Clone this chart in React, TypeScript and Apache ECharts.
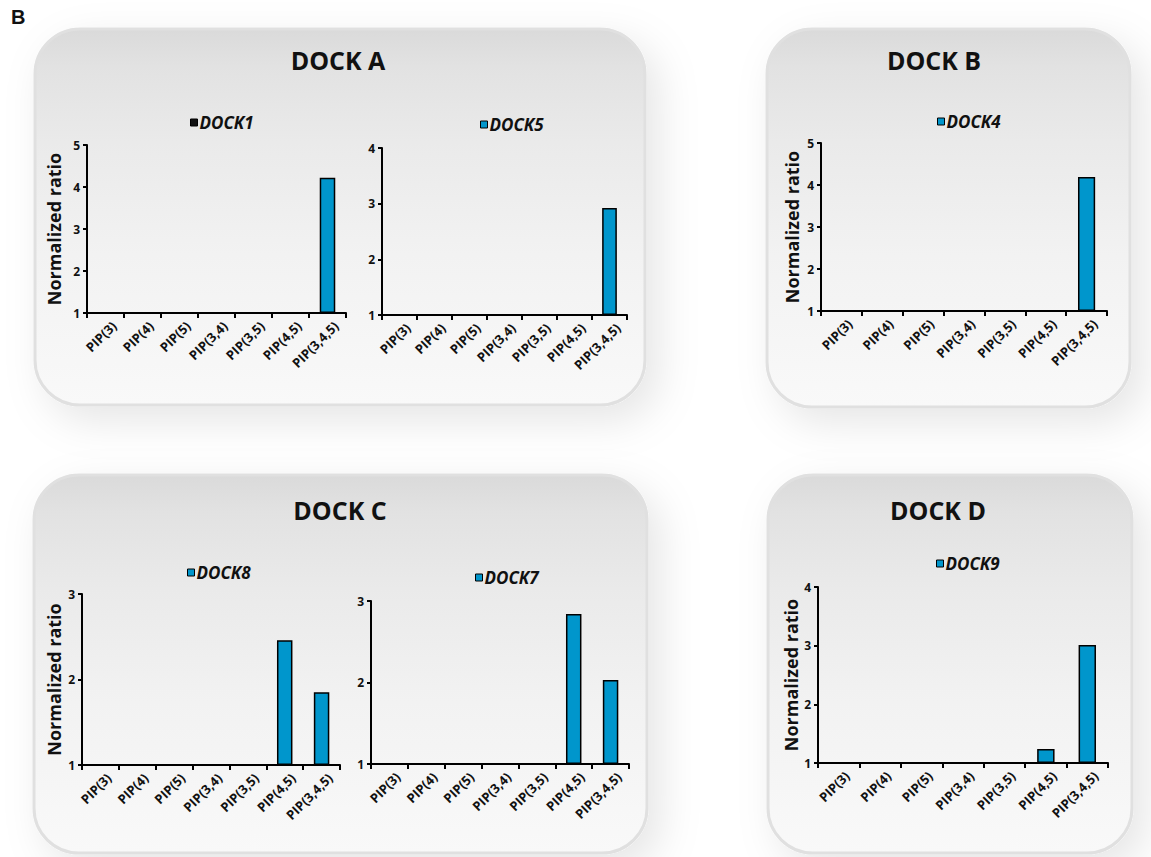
import React, { useEffect, useRef } from "react";
import * as echarts from "echarts";

const categories = ["PIP(3)", "PIP(4)", "PIP(5)", "PIP(3,4)", "PIP(3,5)", "PIP(4,5)", "PIP(3,4,5)"];
const dock1 = [1, 1, 1, 1, 1, 1, 4.22];
const dock5 = [1, 1, 1, 1, 1, 1, 2.92];
const dock4 = [1, 1, 1, 1, 1, 1, 4.19];
const dock8 = [1, 1, 1, 1, 1, 2.46, 1.85];
const dock7 = [1, 1, 1, 1, 1, 2.84, 2.03];
const dock9 = [1, 1, 1, 1, 1, 1.24, 3.01];
const seriesNames = ["DOCK1", "DOCK5", "DOCK4", "DOCK8", "DOCK7", "DOCK9"];
const seriesData = [dock1, dock5, dock4, dock8, dock7, dock9];
const yMaxes = [5, 4, 5, 3, 3, 4];
const panelTitles = ["DOCK A", "DOCK B", "DOCK C", "DOCK D"];

// layout (pixels)
const grids = [
  { left: 87, top: 145, width: 259, height: 168 },
  { left: 382, top: 148, width: 245, height: 167 },
  { left: 821, top: 143, width: 286, height: 168 },
  { left: 82, top: 594, width: 258, height: 171 },
  { left: 371, top: 601, width: 258, height: 163 },
  { left: 818, top: 587, width: 290, height: 176 },
];
const legendPos = [
  { left: 185, top: 109 },
  { left: 475, top: 111 },
  { left: 932, top: 108 },
  { left: 182, top: 559 },
  { left: 470, top: 564 },
  { left: 931, top: 550 },
];
const nameGaps = [24, null, 20, 19, null, 15];
const panels = [
  { x: 35, y: 29, w: 610, h: 376 },
  { x: 767, y: 29, w: 363, h: 378 },
  { x: 34, y: 475, w: 613, h: 378 },
  { x: 768, y: 475, w: 364, h: 378 },
];
const titlePos = [
  { x: 338, y: 60 },
  { x: 934, y: 60 },
  { x: 340, y: 510 },
  { x: 938, y: 510 },
];

const BAR = "#0096cc";
const FONT = "'Open Sans', Lato, sans-serif";

export default function App() {
  const ref = useRef<HTMLDivElement>(null);
  useEffect(() => {
    if (!ref.current) return;
    const chart = echarts.init(ref.current, undefined, { renderer: "svg" });

    const panelGraphics: any[] = panels.map((p) => ({
      type: "rect",
      z: -100,
      shape: { x: p.x, y: p.y, width: p.w, height: p.h, r: 45 },
      style: {
        fill: new echarts.graphic.LinearGradient(0, 0, 0, 1, [
          { offset: 0, color: "#dadada" },
          { offset: 0.1, color: "#e2e2e2" },
          { offset: 0.3, color: "#eaeaea" },
          { offset: 0.6, color: "#f2f2f2" },
          { offset: 1, color: "#f9f9f9" },
        ]),
        stroke: "#e0e0e0",
        lineWidth: 3,
        shadowBlur: 40,
        shadowColor: "rgba(0,0,0,0.10)",
        shadowOffsetX: 12,
        shadowOffsetY: 14,
      },
    }));
    const titleGraphics: any[] = panelTitles.map((t, i) => ({
      type: "text",
      z: 10,
      x: titlePos[i].x,
      y: titlePos[i].y,
      style: {
        text: t,
        fill: "#111",
        font: `bold 25px ${FONT}`,
        align: "center",
        verticalAlign: "middle",
      },
    }));
    const bLabel = {
      type: "text",
      z: 10,
      x: 11,
      y: 17,
      style: {
        text: "B",
        fill: "#111",
        font: "bold 20px 'Liberation Sans', Arial, sans-serif",
        align: "left",
        verticalAlign: "middle",
      },
    };

    const option: any = {
      animation: false,
      backgroundColor: "#ffffff",
      graphic: { elements: [...panelGraphics, ...titleGraphics, bLabel] },
      grid: grids.map((g) => ({ ...g, containLabel: false })),
      legend: seriesNames.map((n, i) => ({
        data: [
          {
            name: n,
            itemStyle: { color: i === 0 ? "#111" : BAR, borderColor: "#000", borderWidth: 1 },
          },
        ],
        left: legendPos[i].left,
        top: legendPos[i].top,
        icon: "rect",
        itemWidth: 7,
        itemHeight: 7,
        selectedMode: false,
        textStyle: {
          fontStyle: "italic",
          fontWeight: "bold",
          fontSize: 17,
          fontFamily: FONT,
          color: "#111",
          padding: [0, 0, 0, -3],
        },
      })),
      xAxis: grids.map((_, i) => ({
        type: "category",
        gridIndex: i,
        data: categories,
        axisLine: { lineStyle: { color: "#000", width: 2 } },
        axisTick: { show: true, length: 5, lineStyle: { color: "#000", width: 2 } },
        axisLabel: {
          rotate: 45,
          interval: 0,
          margin: 19,
          fontSize: 13,
          fontWeight: "bold",
          fontFamily: FONT,
          color: "#111",
          padding: [0, -12, 0, 0],
        },
        splitLine: { show: false },
      })),
      yAxis: grids.map((_, i) => ({
        type: "value",
        gridIndex: i,
        min: 1,
        max: yMaxes[i],
        interval: 1,
        startValue: 1,
        name: nameGaps[i] !== null ? "Normalized ratio" : "",
        nameLocation: "middle",
        nameGap: nameGaps[i] ?? 20,
        nameTextStyle: { fontSize: 18, fontWeight: "bold", fontFamily: FONT, color: "#111" },
        axisLine: { show: true, lineStyle: { color: "#000", width: 2 } },
        axisTick: { show: true, length: 4, lineStyle: { color: "#000", width: 2 } },
        axisLabel: { fontSize: 12, fontWeight: "bold", fontFamily: FONT, color: "#111", margin: 7 },
        splitLine: { show: false },
      })),
      series: seriesNames.map((n, i) => ({
        type: "bar",
        name: n,
        xAxisIndex: i,
        yAxisIndex: i,
        data: seriesData[i],
        barWidth: "42%",
        clip: true,
        itemStyle: { color: BAR, borderColor: "#000", borderWidth: 1.5 },
      })),
    };
    chart.setOption(option);
    return () => chart.dispose();
  }, []);
  return (
    <div
      ref={ref}
      style={{ position: "absolute", left: 0, top: 0, width: 1151, height: 857 }}
    />
  );
}
